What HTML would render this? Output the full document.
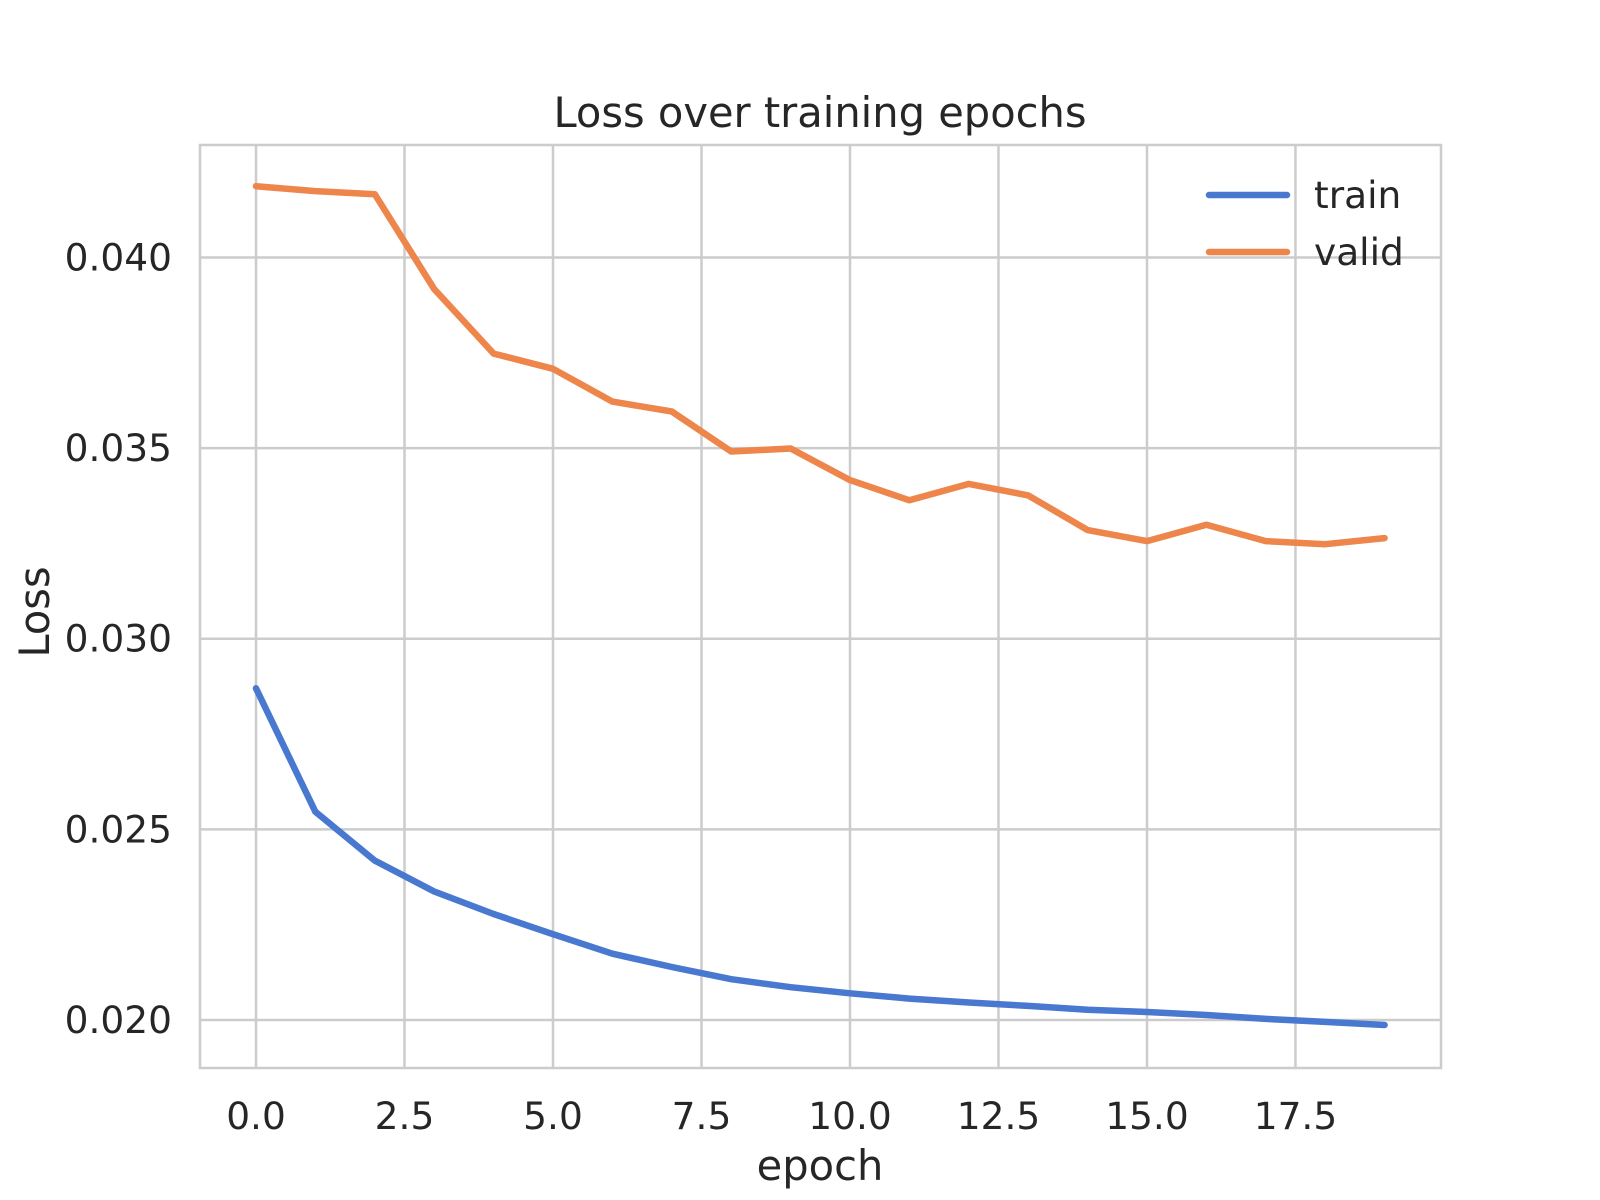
<!DOCTYPE html>
<html><head><meta charset="utf-8"><style>
html,body{margin:0;padding:0;background:#fff;}
svg{display:block;font-family:"DejaVu Sans","Liberation Sans",sans-serif;}
</style></head><body>
<svg id="chart" width="1600" height="1200" viewBox="0 0 1600 1200">
<rect x="0" y="0" width="1600" height="1200" fill="#fff"/>
<g id="grid"></g>
<rect x="200" y="145" width="1241" height="923" fill="none" stroke="#cccccc" stroke-width="2.5"/>
<g id="ticks"></g>
<g id="series"></g>
<text x="820" y="127" font-size="41.6" fill="#262626" text-anchor="middle">Loss over training epochs</text>
<text x="820" y="1180" font-size="41.6" fill="#262626" text-anchor="middle">epoch</text>
<text x="0" y="0" font-size="41.6" fill="#262626" text-anchor="middle" transform="translate(49,612) rotate(-90)">Loss</text>
<g>
<line x1="1209" y1="195" x2="1287" y2="195" stroke="#4878d0" stroke-width="6.5" stroke-linecap="round"/>
<text x="1314" y="208" font-size="37.5" fill="#262626">train</text>
<line x1="1209" y1="252" x2="1287" y2="252" stroke="#ee854a" stroke-width="6.5" stroke-linecap="round"/>
<text x="1314" y="265" font-size="37.5" fill="#262626">valid</text>
</g>
</svg>
<script>
const epochs = [0,1,2,3,4,5,6,7,8,9,10,11,12,13,14,15,16,17,18,19];
const trainLoss = [0.02870,0.02546,0.02418,0.02337,0.02278,0.02225,0.02174,0.02139,0.02107,0.02086,0.02070,0.02056,0.02046,0.02037,0.02027,0.02021,0.02013,0.02003,0.01995,0.01987];
const validLoss = [0.04187,0.04174,0.04166,0.03917,0.03748,0.03708,0.03622,0.03596,0.03491,0.03499,0.03416,0.03363,0.03406,0.03376,0.03285,0.03256,0.03299,0.03256,0.03248,0.03264];
const xTicks = [0,2.5,5,7.5,10,12.5,15,17.5];
const xTickLabels = ["0.0","2.5","5.0","7.5","10.0","12.5","15.0","17.5"];
const yTicks = [0.020,0.025,0.030,0.035,0.040];
const yTickLabels = ["0.020","0.025","0.030","0.035","0.040"];

const NS = "http://www.w3.org/2000/svg";
const X0 = 200, X1 = 1441, Y0 = 1068, Y1 = 145;
const xMin = -0.943, xMax = 19.95, yMin = 0.018741, yMax = 0.04295;
function xs(v){ return X0 + (v - xMin) / (xMax - xMin) * (X1 - X0); }
function ys(v){ return Y0 - (v - yMin) / (yMax - yMin) * (Y0 - Y1); }
function mk(tag, attrs, parent){ const e = document.createElementNS(NS, tag); for (const k in attrs) e.setAttribute(k, attrs[k]); parent.appendChild(e); return e; }

const grid = document.getElementById('grid');
const ticks = document.getElementById('ticks');
xTicks.forEach((t, i) => {
  const l = mk('line', {x1: xs(t), x2: xs(t), y1: Y1, y2: Y0, stroke: '#cccccc', 'stroke-width': 2.5}, grid);
  
  
  const tx = mk('text', {x: xs(t), y: 1129, 'font-size': 37.5, fill: '#262626', 'text-anchor': 'middle'}, ticks);
  tx.textContent = xTickLabels[i];
  
  
});
yTicks.forEach((t, i) => {
  const l = mk('line', {x1: X0, x2: X1, y1: ys(t), y2: ys(t), stroke: '#cccccc', 'stroke-width': 2.5}, grid);
  
  
  const tx = mk('text', {x: 172, y: ys(t) + 13, 'font-size': 37.5, fill: '#262626', 'text-anchor': 'end'}, ticks);
  tx.textContent = yTickLabels[i];
  
  
});

const series = document.getElementById('series');
function drawLine(vals, color, name){
  const pts = vals.map((v, i) => xs(epochs[i]).toFixed(1) + ',' + ys(v).toFixed(1)).join(' ');
  const p = mk('polyline', {points: pts, fill: 'none', stroke: color, 'stroke-width': 6.5, 'stroke-linecap': 'round', 'stroke-linejoin': 'round'}, series);
  
  
}
drawLine(trainLoss, '#4878d0', 'train-line');
drawLine(validLoss, '#ee854a', 'valid-line');
</script>
</body></html>
